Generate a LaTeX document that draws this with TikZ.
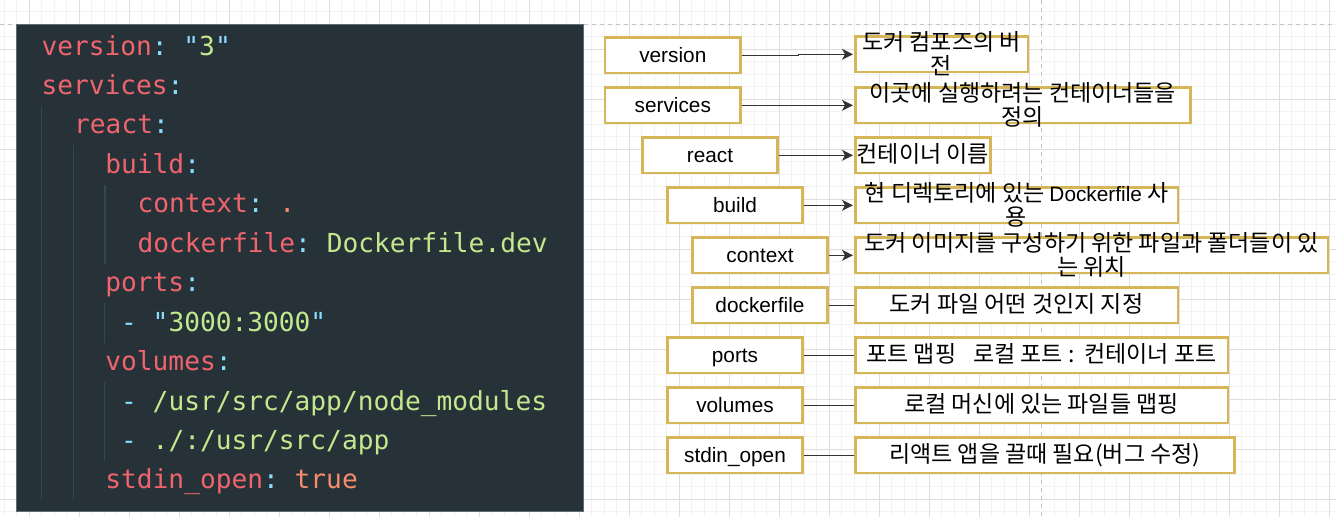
\documentclass[tikz,border=0pt]{standalone}
\usepackage{fontspec}
\setmainfont{Liberation Sans}
\newfontfamily\kr{Noto Sans CJK KR}
\newfontfamily\codefont[WordSpace={1,0,0},Ligatures=TeXOff]{DejaVu Sans Mono}
\usetikzlibrary{arrows.meta}
\definecolor{codebg}{HTML}{263238}
\definecolor{panelborder}{HTML}{5D6D74}
\definecolor{guidecol}{HTML}{36464E}
\definecolor{ckey}{HTML}{F0646E}
\definecolor{cpun}{HTML}{89DDFF}
\definecolor{cstr}{HTML}{C3E88D}
\definecolor{cnum}{HTML}{F78C6C}
\definecolor{boxgold}{HTML}{D6B656}
\definecolor{gridminorcol}{HTML}{F3F3F3}
\definecolor{gridmajorcol}{HTML}{DEDEDE}
\definecolor{pagecol}{HTML}{C4C4C4}
\newcommand\codeK[1]{\textcolor{ckey}{#1}}
\newcommand\codeP[1]{\textcolor{cpun}{#1}}
\newcommand\codeS[1]{\textcolor{cstr}{#1}}
\newcommand\codeN[1]{\textcolor{cnum}{#1}}
\begin{document}
\begin{tikzpicture}[x=1pt,y=-1pt,
  gridminor/.style={draw=gridminorcol,line width=1pt},
  gridmajor/.style={draw=gridmajorcol,line width=1pt},
  pageline/.style={draw=pagecol,line width=1.2pt,dash pattern=on 4pt off 4pt},
  guide/.style={draw=guidecol,line width=1.6pt},
  code/.style={anchor=base west,inner sep=0pt,font=\codefont\fontsize{26.2}{30}\selectfont\frenchspacing},
  keybox/.style={draw=boxgold,line width=2.5pt,fill=white,minimum width=135.2pt,minimum height=35.2pt,inner sep=0pt,
    font=\fontsize{20.8}{24}\selectfont,text height=18.8pt,text depth=4.4pt},
  descbox/.style={draw=boxgold,line width=2.5pt,fill=white,minimum height=35.2pt,inner sep=0pt},
  desctext/.style={anchor=base,inner sep=0pt,font=\kr\fontsize{23}{27}\selectfont},
  conn/.style={draw=black!80,line width=1.5pt},
  arrowconn/.style={conn,-{Stealth[length=11pt,width=11pt,inset=3pt]},shorten >=1pt}
]
\useasboundingbox (0,0) rectangle (1336,517);
\fill[white] (0,0) rectangle (1336,517);
% grid
\foreach \i in {0,...,106} \draw[gridminor] ({4.3+12.5*\i},0) -- ({4.3+12.5*\i},517);
\foreach \j in {0,...,41} \draw[gridminor] (0,{-0.7+12.5*\j}) -- (1336,{-0.7+12.5*\j});
\foreach \i in {0,...,26} \draw[gridmajor] ({29.3+50*\i},0) -- ({29.3+50*\i},517);
\foreach \j in {0,...,10} \draw[gridmajor] (0,{-0.7+50*\j}) -- (1336,{-0.7+50*\j});
\draw[pageline] (0,24.3) -- (1336,24.3);
\draw[pageline] (1041.8,0) -- (1041.8,517);
% code panel
\fill[codebg] (16.7,24.3) rectangle (583.3,511);
\draw[panelborder,line width=0.8pt] (16.7,24.3) rectangle (583.3,511);
\draw[guide] (41.5,106) -- (41.5,500.4);
\draw[guide] (73.6,145.4) -- (73.6,500.4);
\draw[guide] (105,184.8) -- (105,263.7);
\draw[guide] (104.5,303.2) -- (104.5,342.6);
\draw[guide] (104.5,382) -- (104.5,461);
\node[code] (c0) at (41.3,55) {\codeK{version}\codeP{:} \codeP{"}\codeS{3}\codeP{"}};
\node[code] (c1) at (41.3,94.45) {\codeK{services}\codeP{:}};
\node[code] (c2) at (74,133.9) {\codeK{react}\codeP{:}};
\node[code] (c3) at (105.2,173.35) {\codeK{build}\codeP{:}};
\node[code] (c4) at (137.3,212.8) {\codeK{context}\codeP{:} \codeN{.}};
\node[code] (c5) at (137.3,252.25) {\codeK{dockerfile}\codeP{:} \codeS{Dockerfile.dev}};
\node[code] (c6) at (105.2,291.7) {\codeK{ports}\codeP{:}};
\node[code] (c7) at (121,331.15) {\codeP{-} \codeP{"}\codeS{3000:3000}\codeP{"}};
\node[code] (c8) at (105.2,370.6) {\codeK{volumes}\codeP{:}};
\node[code] (c9) at (121,410.05) {\codeP{-} \codeS{/usr/src/app/node\_modules}};
\node[code] (c10) at (121,449.5) {\codeP{-} \codeS{./:/usr/src/app}};
\node[code] (c11) at (105.2,488.95) {\codeK{stdin\_open}\codeP{:} \codeN{true}};
% key boxes
\node[keybox] (k1) at (672.8,55.3) {version};
\node[keybox] (k2) at (672.8,105.3) {services};
\node[keybox] (k3) at (710,155.3) {react};
\node[keybox] (k4) at (735,205.3) {build};
\node[keybox] (k5) at (760,255.3) {context};
\node[keybox] (k6) at (760,305.3) {dockerfile};
\node[keybox] (k7) at (735,355.3) {ports};
\node[keybox] (k8) at (735,405.3) {volumes};
\node[keybox] (k9) at (735,455.3) {stdin\_open};
% description boxes
\node[descbox,minimum width=172.5pt] (d1) at (941.5,54.3) {};
\node[descbox,minimum width=335.2pt] (d2) at (1022.85,105.3) {};
\node[descbox,minimum width=135.2pt] (d3) at (922.85,155.3) {};
\node[descbox,minimum width=322.5pt] (d4) at (1016.5,205.3) {};
\node[descbox,minimum width=472.5pt] (d5) at (1091.5,255.3) {};
\node[descbox,minimum width=322.5pt] (d6) at (1016.5,305.3) {};
\node[descbox,minimum width=372.5pt] (d7) at (1041.5,355.3) {};
\node[descbox,minimum width=372.5pt] (d8) at (1041.5,405.3) {};
\node[descbox,minimum width=379.2pt] (d9) at (1044.85,455.3) {};
% description texts
\node[desctext] (t1a) at (941.5,50.8) {도커 컴포즈의 버};
\node[desctext] (t1b) at (941.5,74.8) {전};
\node[desctext] (t2a) at (1022.85,101.8) {이곳에 실행하려는 컨테이너들을};
\node[desctext] (t2b) at (1022.85,125.8) {정의};
\node[desctext] (t3) at (922.85,162.5) {컨테이너 이름};
\node[desctext] (t4a) at (1016.5,201.8) {현 디렉토리에 있는 {\rmfamily\fontsize{20.8}{24}\selectfont Dockerfile} 사};
\node[desctext] (t4b) at (1016.5,225.8) {용};
\node[desctext] (t5a) at (1091.5,251.8) {도커 이미지를 구성하기 위한 파일과 폴더들이 있};
\node[desctext] (t5b) at (1091.5,275.8) {는 위치};
\node[desctext] (t6) at (1016.5,312.7) {도커 파일 어떤 것인지 지정};
\node[desctext] (t7) at (1041.5,362.7) {포트 맵핑\hspace{17pt}로컬 포트 :\hspace{10pt}컨테이너 포트};
\node[desctext] (t8) at (1041.5,412.7) {로컬 머신에 있는 파일들 맵핑};
\node[desctext] (t9) at (1044.85,462.7) {리액트 앱을 끌때 필요(버그 수정)};
% connectors
\draw[arrowconn] (k1.east) -- ++(57,0) |- (d1.west);
\draw[arrowconn] (k2.east) -- (d2.west);
\draw[arrowconn] (k3.east) -- (d3.west);
\draw[arrowconn] (k4.east) -- (d4.west);
\draw[arrowconn] (k5.east) -- (d5.west);
\draw[conn] (k6.east) -- (d6.west);
\draw[conn] (k7.east) -- (d7.west);
\draw[conn] (k8.east) -- (d8.west);
\draw[conn] (k9.east) -- (d9.west);
\end{tikzpicture}
\end{document}
